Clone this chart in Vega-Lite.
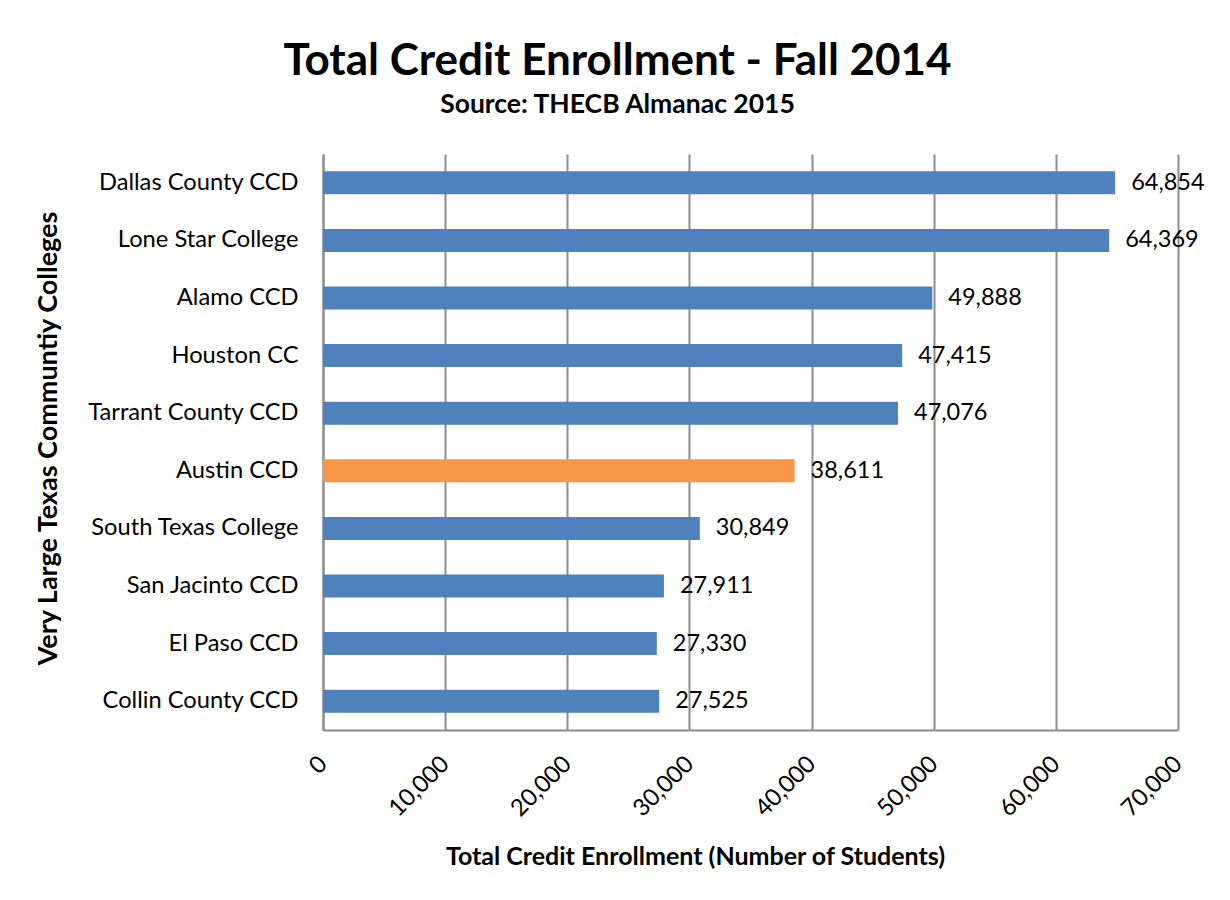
{
  "$schema": "https://vega.github.io/schema/vega-lite/v6.json",
  "width": 855,
  "height": 576,
  "autosize": {"type": "none"},
  "padding": {"left": 323, "top": 154, "right": 52, "bottom": 170},
  "background": "white",
  "title": {
    "text": "Total Credit Enrollment - Fall 2014",
    "subtitle": "Source: THECB Almanac 2015",
    "anchor": "middle",
    "frame": "group",
    "dx": -133,
    "offset": 36,
    "font": "Lato",
    "fontSize": 44,
    "fontWeight": "bold",
    "color": "black",
    "subtitleFont": "Lato",
    "subtitleFontSize": 26.5,
    "subtitleFontWeight": "bold",
    "subtitleColor": "black",
    "subtitlePadding": 8
  },
  "data": {
    "values": [
      {"college": "Dallas County CCD", "enrollment": 64854, "group": "other"},
      {"college": "Lone Star College", "enrollment": 64369, "group": "other"},
      {"college": "Alamo CCD", "enrollment": 49888, "group": "other"},
      {"college": "Houston CC", "enrollment": 47415, "group": "other"},
      {"college": "Tarrant County CCD", "enrollment": 47076, "group": "other"},
      {"college": "Austin CCD", "enrollment": 38611, "group": "Austin"},
      {"college": "South Texas College", "enrollment": 30849, "group": "other"},
      {"college": "San Jacinto CCD", "enrollment": 27911, "group": "other"},
      {"college": "El Paso CCD", "enrollment": 27330, "group": "other"},
      {"college": "Collin County CCD", "enrollment": 27525, "group": "other"}
    ]
  },
  "encoding": {
    "y": {
      "field": "college",
      "type": "nominal",
      "sort": null,
      "scale": {"paddingInner": 0.6, "paddingOuter": 0.3},
      "axis": {
        "title": "Very Large Texas Communtiy Colleges",
        "titleFont": "Lato",
        "titleFontSize": 27,
        "titleFontWeight": "bold",
        "titleColor": "black",
        "titleX": -275,
        "titleY": 284,
        "titleAngle": -90,
        "titleAlign": "center",
        "titleBaseline": "middle",
        "labelFont": "Lato",
        "labelFontSize": 23.7,
        "labelColor": "black",
        "labelPadding": 25,
        "labelLimit": 400,
        "ticks": false,
        "grid": false,
        "domainColor": "#8c8c8c",
        "domainWidth": 2
      }
    },
    "x": {
      "field": "enrollment",
      "type": "quantitative",
      "scale": {"domain": [0, 70000], "nice": false},
      "axis": {
        "title": "Total Credit Enrollment (Number of Students)",
        "titleFont": "Lato",
        "titleFontSize": 25,
        "titleFontWeight": "bold",
        "titleColor": "black",
        "titleX": 372,
        "titleY": 126,
        "titleAlign": "center",
        "titleBaseline": "middle",
        "values": [0, 10000, 20000, 30000, 40000, 50000, 60000, 70000],
        "format": ",d",
        "labelFont": "Lato",
        "labelFontSize": 23.7,
        "labelColor": "black",
        "labelAngle": -45,
        "labelAlign": "right",
        "labelBaseline": "middle",
        "labelPadding": 30,
        "labelFlush": false,
        "labelOverlap": false,
        "ticks": false,
        "grid": true,
        "gridColor": "#8c8c8c",
        "gridWidth": 2,
        "domainColor": "#8c8c8c",
        "domainWidth": 2
      }
    }
  },
  "layer": [
    {
      "mark": {"type": "bar"},
      "encoding": {
        "color": {
          "field": "group",
          "type": "nominal",
          "scale": {"domain": ["other", "Austin"], "range": ["#4f81bd", "#f79646"]},
          "legend": null
        }
      }
    },
    {
      "mark": {"type": "text", "align": "left", "baseline": "middle", "dx": 16, "font": "Lato", "fontSize": 23.5, "color": "black"},
      "encoding": {
        "text": {"field": "enrollment", "type": "quantitative", "format": ",d"}
      }
    }
  ],
  "config": {
    "view": {"stroke": null}
  }
}
